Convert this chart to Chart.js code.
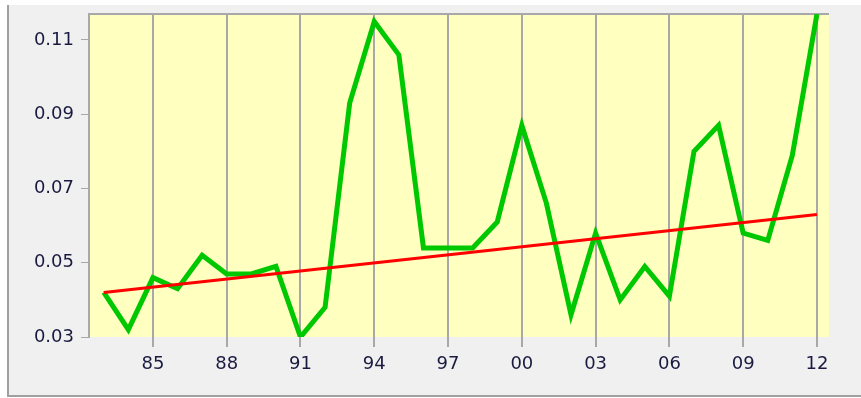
<!DOCTYPE html>
<html>
<head>
<meta charset="utf-8">
<script src="https://cdn.jsdelivr.net/npm/chart.js@4/dist/chart.umd.min.js"></script>
<style>
html,body{margin:0;padding:0;background:#ffffff;}
#wrap{position:absolute;left:0;top:0;width:861px;height:398px;}
</style>
</head>
<body>
<div id="wrap"><canvas id="c" width="861" height="398"></canvas></div>
<script>
const years = [1983,1984,1985,1986,1987,1988,1989,1990,1991,1992,1993,1994,1995,1996,1997,1998,1999,2000,2001,2002,2003,2004,2005,2006,2007,2008,2009,2010,2011,2012];
const values = [0.042,0.032,0.046,0.043,0.052,0.047,0.047,0.049,0.030,0.038,0.093,0.115,0.106,0.054,0.054,0.054,0.061,0.087,0.066,0.036,0.058,0.040,0.049,0.041,0.080,0.087,0.058,0.056,0.079,0.117];
const trendYears = [1983,2012];
const trendValues = [0.042,0.063];
const xTicks = [1985,1988,1991,1994,1997,2000,2003,2006,2009,2012];
const yTicks = [0.03,0.05,0.07,0.09,0.11];

const frame = {
  id:'frame',
  beforeDraw(chart){
    const ctx = chart.ctx, W = chart.width, H = chart.height, a = chart.chartArea;
    ctx.save();
    ctx.fillStyle = '#ffffff'; ctx.fillRect(0,0,W,H);
    ctx.fillStyle = '#f0f0f0'; ctx.fillRect(7,5,W-7,391);
    ctx.fillStyle = '#a0a0a0'; ctx.fillRect(7,5,2,392);
    ctx.fillRect(7,395,W-7,2);
    ctx.fillStyle = '#ffffc0'; ctx.fillRect(a.left,a.top,a.right-a.left,a.bottom-a.top);
    ctx.restore();
  },
  beforeDatasetsDraw(chart){
    const ctx = chart.ctx, a = chart.chartArea;
    ctx.save();
    ctx.strokeStyle = '#a8a8a8'; ctx.lineWidth = 2;
    ctx.beginPath(); ctx.moveTo(a.left-1,a.top); ctx.lineTo(a.right,a.top); ctx.stroke();
    ctx.restore();
  }
};

new Chart(document.getElementById('c'), {
  type:'line',
  data:{
    datasets:[
      {data: trendYears.map((x,i)=>({x, y: trendValues[i]})), borderColor:'#ff0000', borderWidth:3, pointRadius:0, fill:false, tension:0, order:0},
      {data: years.map((x,i)=>({x, y: values[i]})), borderColor:'#00c800', borderWidth:5, pointRadius:0, fill:false, tension:0, order:1, borderJoinStyle:'miter'}
    ]
  },
  options:{
    responsive:false, animation:false, devicePixelRatio:1,
    layout:{padding:{left:0,top:14,right:32,bottom:0}},
    plugins:{legend:{display:false}, tooltip:{enabled:false}},
    scales:{
      x:{
        type:'linear', min:1982.4, max:2012.49,
        afterFit(s){ s.height = 61; s.paddingLeft = 0; s.paddingRight = 0; },
        afterBuildTicks(s){ s.ticks = xTicks.map(v=>({value:v})); },
        grid:{color:'#a8a8a8', lineWidth:2, tickLength:10, drawOnChartArea:true, drawTicks:true},
        border:{display:false},
        ticks:{autoSkip:false, maxRotation:0, padding:7, color:'#1a1a40', font:{family:'DejaVu Sans', size:18},
          callback:(v)=>String(v%100).padStart(2,'0')}
      },
      y:{
        type:'linear', min:0.03, max:0.117,
        afterFit(s){ s.width = 89; s.paddingTop = 0; s.paddingBottom = 0; },
        afterBuildTicks(s){ s.ticks = yTicks.map(v=>({value:v})); },
        grid:{drawOnChartArea:false, drawTicks:true, tickLength:8, color:'#a8a8a8', lineWidth:1},
        border:{display:true, color:'#a8a8a8', width:2},
        ticks:{padding:7, color:'#1a1a40', font:{family:'DejaVu Sans', size:18},
          callback:(v)=>v.toFixed(2)}
      }
    }
  },
  plugins:[frame]
});
</script>
</body>
</html>
